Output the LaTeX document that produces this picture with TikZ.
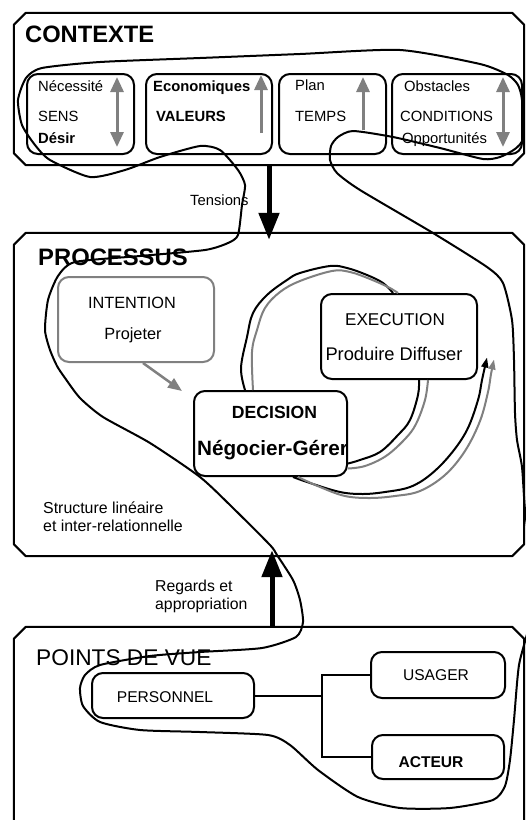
\documentclass[tikz,border=0pt]{standalone}
\usepackage{fontspec}
\setmainfont{Liberation Sans}
\usetikzlibrary{arrows.meta,calc}
\definecolor{lgray}{RGB}{128,128,128}
\newcommand{\chamframe}[1]{%
  \draw[line width=2pt, line join=round] ([xshift=12pt]#1.north west) -- ([xshift=-12pt]#1.north east) -- ([yshift=-12pt]#1.north east) -- ([yshift=12pt]#1.south east) -- ([xshift=-12pt]#1.south east) -- ([xshift=12pt]#1.south west) -- ([yshift=12pt]#1.south west) -- ([yshift=-12pt]#1.north west) -- cycle;}
\begin{document}
\begin{tikzpicture}[x=1pt,y=-1pt,
  frame/.style={rectangle, draw=none, inner sep=0pt},
  tbox/.style={draw, line width=2pt, rounded corners=11pt, inner sep=0pt},
  st/.style={inner sep=0pt, anchor=base west, font=\fontsize{14.8}{16}\selectfont},
  stb/.style={st, font=\bfseries\fontsize{14.8}{16}\selectfont},
  ct/.style={inner sep=0pt, anchor=base},
  garrow/.style={draw=lgray, line width=3pt, -{Triangle[width=13pt,length=15pt]}},
  gdouble/.style={draw=lgray, line width=3pt, {Triangle[width=13pt,length=15pt]}-{Triangle[width=13pt,length=15pt]}},
  bigarrow/.style={line width=5pt, -{Triangle[width=20pt,length=27pt]}},
  cyc/.style={line width=2pt, line join=round},
  cycg/.style={cyc, draw=lgray},
  freeline/.style={line width=2pt, line join=round},
  conn/.style={line width=2pt}
]
\useasboundingbox (0,0) rectangle (526,820);
\clip (0,0) rectangle (526,820);
\fill[white] (0,0) rectangle (526,820);

% ---------------- CONTEXTE ----------------
\node[frame, minimum width=510pt, minimum height=152pt] (ctx) at (269,89) {};
\chamframe{ctx}
\node[inner sep=0pt, anchor=base west, font=\bfseries\fontsize{23.7}{26}\selectfont] (tctx) at (25,42) {CONTEXTE};
\node[tbox, minimum width=107pt, minimum height=80pt] (s1) at (80.5,114) {};
\node[tbox, minimum width=126pt, minimum height=80pt] (s2) at (209,114) {};
\node[tbox, minimum width=107pt, minimum height=80pt] (s3) at (332.5,114) {};
\node[tbox, minimum width=130pt, minimum height=80pt] (s4) at (457,114) {};
\node[st] (n1) at (38,91) {Nécessité};
\node[st] (n2) at (38,121) {SENS};
\node[stb] (n3) at (38,143) {Désir};
\node[stb] (e1) at (153,91) {Economiques};
\node[stb] (e2) at (156,121) {VALEURS};
\node[st] (p1) at (295,90) {Plan};
\node[st] (p2) at (295,121) {TEMPS};
\node[st] (o1) at (404,91) {Obstacles};
\node[st] (o2) at (400,121) {CONDITIONS};
\node[st] (o3) at (402,143) {Opportunités};
\draw[gdouble] (117,77) -- (117,147);
\draw[garrow] (261,133) -- (261,75);
\draw[garrow] (363,130) -- (363,77);
\draw[gdouble] (503,77) -- (503,147);

% ---------------- PROCESSUS ----------------
\node[frame, minimum width=510pt, minimum height=323pt] (proc) at (269,394.5) {};
\chamframe{proc}
\node[inner sep=0pt, anchor=base west, font=\bfseries\fontsize{23.8}{26}\selectfont] (tproc) at (38,265) {PROCESSUS};
\node[tbox, draw=lgray, minimum width=156pt, minimum height=85pt] (int) at (136,319.5) {};
\node[tbox, minimum width=153pt, minimum height=85pt] (dec) at (270.5,433.5) {};
\node[tbox, minimum width=156pt, minimum height=85pt] (exe) at (399,336.5) {};
\node[ct, font=\fontsize{16.3}{18}\selectfont] (ti1) at (132,308) {INTENTION};
\node[ct, font=\fontsize{16.3}{18}\selectfont] (ti2) at (133,339) {Projeter};
\node[ct, font=\fontsize{17.1}{19}\selectfont] (te1) at (395,325) {EXECUTION};
\node[ct, font=\fontsize{18.3}{20}\selectfont] (te2) at (394,360) {Produire Diffuser};
\node[ct, font=\bfseries\fontsize{17.6}{19}\selectfont] (td1) at (274.5,418) {DECISION};
\node[ct, font=\bfseries\fontsize{20.7}{23}\selectfont] (td2) at (272.5,455) {Négocier-Gérer};
\node[st, font=\fontsize{15.9}{18}\selectfont] (sl1) at (43,513) {Structure linéaire};
\node[st, font=\fontsize{15.9}{18}\selectfont] (sl2) at (43,531) {et inter-relationnelle};

\draw[draw=lgray, line width=2.5pt, -{Triangle[width=11pt,length=14pt]}] ([xshift=7pt]int.south) -- ([xshift=-11pt,yshift=-1pt]dec.north west);

% cycle curves
\draw[cyc] plot[smooth, tension=0.6] coordinates {([xshift=-25.5pt]dec.north) (241,368) (247,337) (253,313) (267,295) (287,280) (300,273) (330,266) (347,268) (367,275) (383,283) ([xshift=-6pt]exe.north)};
\draw[cycg] plot[smooth, tension=0.6] coordinates {([xshift=-17.5pt]dec.north) (252,352) (257,330) (265,308) (280,292) (300,281) (332,271) (350,272) (370,279) (388,287) ([xshift=-1pt]exe.north)};
\draw[cyc] plot[smooth, tension=0.6] coordinates {([xshift=20pt]exe.south) (418,395) (410,420) (398,435) (380,452) (360,460) ([yshift=-30pt]dec.east)};
\draw[cycg] plot[smooth, tension=0.6] coordinates {([xshift=29pt]exe.south) (425,400) (416,424) (405,439) (386,456) (365,466) ([yshift=-35pt]dec.east)};
\draw[cyc, -{Triangle[width=7pt,length=10pt]}] plot[smooth, tension=0.6] coordinates {([xshift=22.5pt]dec.south) (310,483) (340,492) (363,494) (385,492) (410,487) (430,475) (450,455) (467,430) (478,400) (482,380) ([xshift=9pt,yshift=-21pt]exe.east)};
\draw[cycg, -{Triangle[width=7pt,length=10pt]}] plot[smooth, tension=0.6] coordinates {([xshift=27.5pt]dec.south) (320,487) (345,496) (370,498) (395,496) (420,491) (445,475) (465,451) (480,421) (488,392) (491,374) ([xshift=16pt,yshift=-23pt]exe.east)};

% big arrows
\draw[bigarrow] (ctx.south) -- ([yshift=-7pt]proc.north);
\node[st] (tens) at (190,205) {Tensions};

% ---------------- POINTS DE VUE ----------------
\node[frame, minimum width=510pt, minimum height=215pt] (pdv) at (269,734.5) {};
\chamframe{pdv}
\draw[bigarrow] ([xshift=3pt]pdv.north) -- ([xshift=3pt,yshift=6pt]proc.south);
\node[st, font=\fontsize{15.8}{18}\selectfont] (rg1) at (155,591) {Regards et};
\node[st, font=\fontsize{15.8}{18}\selectfont] (rg2) at (155,609) {appropriation};

\node[inner sep=0pt, anchor=base west, font=\fontsize{22.7}{25}\selectfont] (tpdv) at (36,665) {POINTS DE VUE};
\node[tbox, minimum width=162pt, minimum height=45pt] (pers) at (173,695.5) {};
\node[tbox, minimum width=134pt, minimum height=46pt] (usa) at (438,675) {};
\node[tbox, minimum width=132pt, minimum height=44pt] (act) at (438,757) {};
\node[ct, font=\fontsize{15.6}{18}\selectfont] (tpers) at (165,702) {PERSONNEL};
\node[ct, font=\fontsize{15.6}{18}\selectfont] (tusa) at (436,680) {USAGER};
\node[ct, font=\bfseries\fontsize{15.6}{18}\selectfont] (tact) at (431,767) {ACTEUR};
\coordinate (junc) at (322,695.5);
\draw[conn] (pers.east) -- (junc);
\draw[conn] (usa.west) -| (junc) |- (act.west);

% ---------------- free-hand loop ----------------
\draw[freeline] plot[smooth cycle, tension=0.4] coordinates {
(270,545) (277,555) (293,580) (300,600) (303,622) (296,637) (262,648) (200,652) (150,656) (100,665) (85,675) (80,688) (83,706) (100,722) (140,730) (200,732) (268,735) (290,745) (318,770) (358,797) (400,808) (450,808) (493,800) (505,786) (510,760) (514,720) (519,665) (530,620) (531,560) (525,510) (522,467) (517,440) (515,413) (514,360) (512,320) (503,283) (487,267) (433,233) (360,190) (337,173) (330,160) (331,146) (338,137) (353,131) (393,137) (440,148) (483,159) (500,157) (515,149) (523,138) (522,100) (518,85) (508,75) (480,64) (400,50) (300,54) (200,58) (100,62) (42,68) (26,78) (18,100) (22,125) (35,145) (50,160) (90,177) (125,170) (160,157) (200,146) (220,150) (238,170) (245,185) (242,205) (238,235) (228,243) (205,250) (140,256) (75,262) (58,276) (48,300) (45,330) (50,350) (57,366) (65,378) (80,398) (103,417) (150,443) (200,477) (232,507)};
\end{tikzpicture}
\end{document}
